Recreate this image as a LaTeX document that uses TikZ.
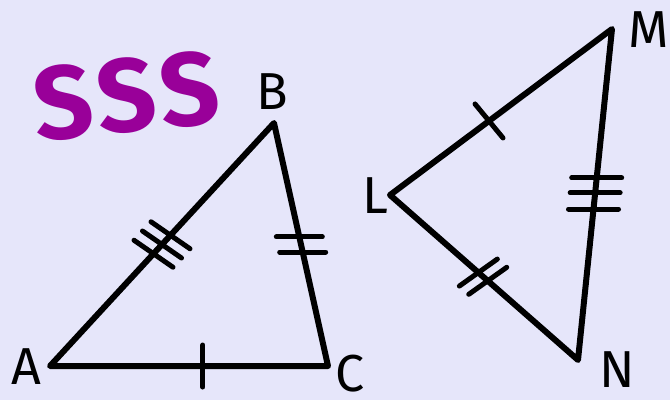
\documentclass[tikz,border=0pt]{standalone}
\usepackage{fontspec}
\setmainfont{Fira Sans}
\usepackage{tikz}
\usetikzlibrary{calc}
\definecolor{sssbg}{HTML}{E6E6FA}
\definecolor{ssspurple}{HTML}{990099}

\begin{document}
\begin{tikzpicture}[x=1pt,y=-1pt,line cap=round,line join=round,
        side/.style={line width=6pt},
        tickmark/.style={line width=5pt},
        vlbl/.style={font=\fontsize{52}{52}\selectfont,inner sep=0pt,text depth=0pt},
        ttl/.style={font=\fontsize{104}{104}\selectfont\bfseries,text=ssspurple,inner sep=0pt}]
        \fill[sssbg] (0,0) rectangle (670,400);
        \node[ttl,rotate=6] (sss) at (126,96) {S\kern4pt S\kern4pt S};
        \coordinate (A) at (50,366);\coordinate (B) at (274,123);\coordinate (C) at (328,366);
        \coordinate (L) at (390,195);\coordinate (M) at (612,29);\coordinate (N) at (578,360);
        \draw[side] (A)--(B)--(C)--cycle;
        \draw[side] (L)--(M)--(N)--cycle;
        \node[vlbl] (la) at (26,367) {A};
        \node[vlbl] (lb) at (272,92) {B};
        \node[vlbl] (lc) at (350,373) {C};
        \node[vlbl] (ll) at (375,196) {L};
        \node[vlbl] (lm) at (649,30) {M};
        \node[vlbl] (ln) at (617,370) {N};
        % side marks
        \draw[tickmark] ($(A)!0.55!(C)$) ++(0,-21) -- ++(0,42);
        \foreach \t in {0.462,0.5,0.538}
          \draw[tickmark] ($(A)!\t!(B)$) ++(-19.5,-13.5) -- ++(39,27);
        \foreach \t in {0.469,0.531}
          \draw[tickmark] ($(B)!\t!(C)$) ++(-23,0) -- ++(46,0);
        \draw[tickmark] ($(L)!0.446!(M)$) ++(-14,-17) -- ++(28,34);
        \foreach \t in {0.47,0.52}
          \draw[tickmark] ($(L)!\t!(N)$) ++(-19,13.5) -- ++(38,-27);
        \foreach \t in {0.45,0.495,0.544}
          \draw[tickmark] ($(M)!\t!(N)$) ++(-25,0) -- ++(50,0);
      \end{tikzpicture}
\end{document}
